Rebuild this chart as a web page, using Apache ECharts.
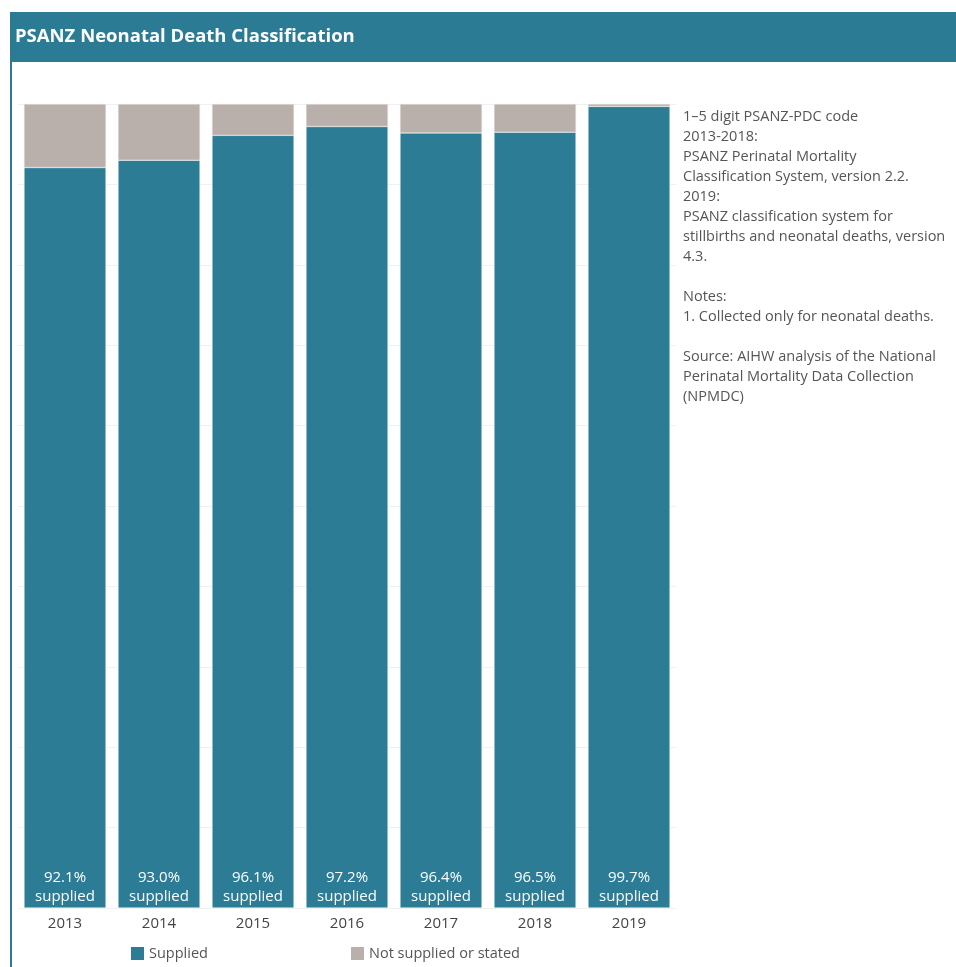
<!DOCTYPE html>
<html><head><meta charset="utf-8">
<script src="https://cdn.jsdelivr.net/npm/echarts@6/dist/echarts.min.js"></script>
<style>html,body{margin:0;padding:0;background:#fff}#c{width:956px;height:967px}</style>
</head><body><div id="c"></div>
<script>
const years = ['2013','2014','2015','2016','2017','2018','2019'];
const supplied = [92.1, 93.0, 96.1, 97.2, 96.4, 96.5, 99.7];
const notSupplied = [7.9, 7.0, 3.9, 2.8, 3.6, 3.5, 0.3];
const yTicks = [0,10,20,30,40,50,60,70,80,90,100];
const noteText = '1–5 digit PSANZ-PDC code\n2013-2018:\nPSANZ Perinatal Mortality\nClassification System, version 2.2.\n2019:\nPSANZ classification system for\nstillbirths and neonatal deaths, version\n4.3.\n\nNotes:\n1. Collected only for neonatal deaths.\n\nSource: AIHW analysis of the National\nPerinatal Mortality Data Collection\n(NPMDC)';

const TEAL = '#2c7c96';
const GREY = '#bab0ab';
const FONT = '"Open Sans", "Noto Sans", sans-serif';

const chart = echarts.init(document.getElementById('c'));
chart.setOption({
  animation: false,
  textStyle: {fontFamily: FONT},
  graphic: [
    {type:'rect', shape:{x:10, y:12, width:946, height:50}, style:{fill:'#2b7b95'}},
    {type:'rect', shape:{x:10, y:62, width:2, height:905}, style:{fill:'#2b7b95'}},
    {type:'text', x:15, y:37, style:{text:'PSANZ Neonatal Death Classification', fill:'#fff', font:'bold 18.5px ' + FONT, textVerticalAlign:'middle'}},
    {type:'text', x:683, y:107, style:{text:noteText, fill:'#555', font:'14.5px ' + FONT, lineHeight:20}}
  ],
  legend: [
    {data:['Supplied'], left:126, top:941, itemWidth:13, itemHeight:13, icon:'rect', itemStyle:{borderWidth:0},
     textStyle:{color:'#555', fontSize:14.5, fontFamily:FONT}},
    {data:['Not supplied or stated'], left:346, top:941, itemWidth:13, itemHeight:13, icon:'rect', itemStyle:{borderWidth:0},
     textStyle:{color:'#555', fontSize:14.5, fontFamily:FONT}}
  ],
  grid: {left:18, right:280, top:104, bottom:59},
  xAxis: {
    type:'category', data: years,
    axisLine:{show:false}, axisTick:{show:false},
    axisLabel:{color:'#444', fontSize:15, margin:8, fontFamily:FONT}
  },
  yAxis: {
    type:'value', min:yTicks[0], max:yTicks[yTicks.length-1], interval:10,
    axisLabel:{show:false}, axisLine:{show:false}, axisTick:{show:false},
    splitLine:{lineStyle:{color:'#f0f0f0', width:1}}
  },
  series: [
    {name:'Supplied', type:'bar', stack:'s', data:supplied, barWidth:82,
     itemStyle:{color:TEAL, borderColor:'#e8f0f2', borderWidth:0.5},
     label:{show:true, position:'insideBottom', distance:2, color:'#fff', fontSize:15, lineHeight:19, fontFamily:FONT,
       formatter: p => p.value.toFixed(1) + '%\nsupplied'}},
    {name:'Not supplied or stated', type:'bar', stack:'s', data:notSupplied, barWidth:82,
     itemStyle:{color:GREY, borderColor:'#e8e4e2', borderWidth:0.5}}
  ]
});
</script></body></html>
